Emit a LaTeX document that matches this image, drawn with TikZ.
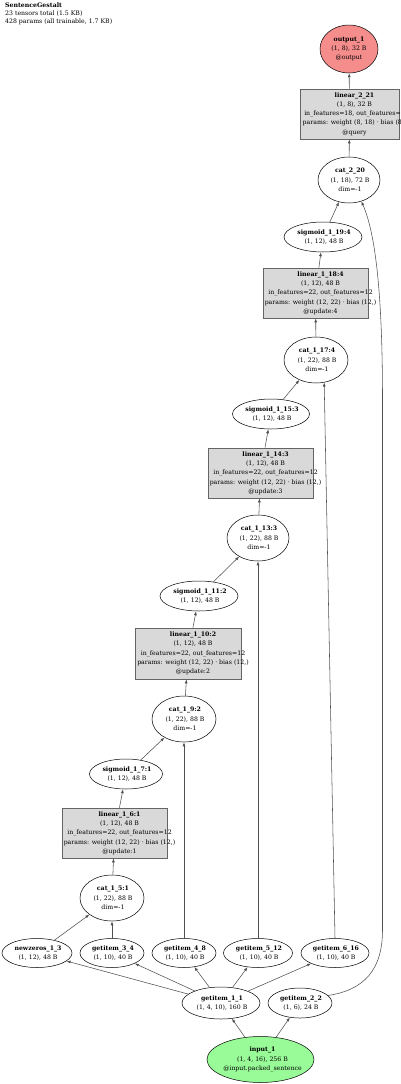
\documentclass[tikz,border=0pt]{standalone}
\usepackage{fontspec}
\setmainfont{DejaVu Serif}
\usetikzlibrary{shapes.geometric,arrows.meta}
\definecolor{boxfill}{RGB}{217,217,217}
\definecolor{boxline}{RGB}{100,100,100}
\definecolor{outfill}{RGB}{246,141,141}
\definecolor{infill}{RGB}{152,251,152}
\definecolor{edgecol}{RGB}{80,80,80}
\begin{document}
\begin{tikzpicture}[x=1pt,y=-1pt,
  ell/.style={draw=black, line width=0.5pt, ellipse, inner sep=0pt, fill=white},
  lbox/.style={draw=boxline, line width=0.8pt, rectangle, inner sep=0pt, fill=boxfill, minimum width=105pt, minimum height=50pt},
  txt/.style={align=center, inner sep=0pt, font=\fontsize{6.2}{9.3}\selectfont},
  hdr/.style={align=left, inner sep=0pt, font=\fontsize{6.2}{7.7}\selectfont},
  catn/.style={ell, minimum width=64pt, minimum height=46pt},
  sig/.style={ell, minimum width=78pt, minimum height=30pt},
  gi/.style={ell, minimum width=66pt, minimum height=29pt},
  conn/.style={draw=edgecol, line width=0.55pt, -{Latex[length=4pt,width=3pt]}}
]
\useasboundingbox (0,0) rectangle (400,1084);
\clip (0,0) rectangle (400,1084);

\node[hdr, anchor=north west] (hdr) at (5,2.8) {\textbf{SentenceGestalt}\\23 tensors total (1.5 KB)\\428 params (all trainable, 1.7 KB)};

% top chain
\node[ell, fill=outfill, minimum width=58pt, minimum height=48pt] (out1) at (349,49) {};
\node[txt] (out1t) at (out1) {\textbf{output\_1}\\(1, 8), 32 B\\@output};

\node[lbox, minimum width=99pt] (l21) at (349.5,114) {};
\node[txt] (l21t) at ([xshift=5pt]l21.center) {\textbf{linear\_2\_21}\\(1, 8), 32 B\\in\_features=18, out\_features=8\\params: weight (8, 18) · bias (8,)\\@query};

\node[catn, minimum width=62pt] (c20) at (349,180) {};
\node[txt] (c20t) at ([xshift=1pt]c20.center) {\textbf{cat\_2\_20}\\(1, 18), 72 B\\dim=-1};

\node[sig] (s19) at (323,237) {};
\node[txt] (s19t) at ([xshift=1pt]s19.center) {\textbf{sigmoid\_1\_19:4}\\(1, 12), 48 B};

\node[lbox] (l18) at (315.5,293) {};
\node[txt] (l18t) at ([xshift=5pt]l18.center) {\textbf{linear\_1\_18:4}\\(1, 12), 48 B\\in\_features=22, out\_features=12\\params: weight (12, 22) · bias (12,)\\@update:4};

\node[catn] (c17) at (316,360) {};
\node[txt] (c17t) at ([xshift=1pt]c17.center) {\textbf{cat\_1\_17:4}\\(1, 22), 88 B\\dim=-1};

\node[sig, minimum width=77pt] (s15) at (271,414) {};
\node[txt] (s15t) at ([xshift=1pt]s15.center) {\textbf{sigmoid\_1\_15:3}\\(1, 12), 48 B};

\node[lbox] (l14) at (260.5,473) {};
\node[txt] (l14t) at ([xshift=5pt]l14.center) {\textbf{linear\_1\_14:3}\\(1, 12), 48 B\\in\_features=22, out\_features=12\\params: weight (12, 22) · bias (12,)\\@update:3};

\node[catn, minimum width=62pt] (c13) at (258,538) {};
\node[txt] (c13t) at ([xshift=1pt]c13.center) {\textbf{cat\_1\_13:3}\\(1, 22), 88 B\\dim=-1};

\node[sig] (s11) at (199,596) {};
\node[txt] (s11t) at ([xshift=1pt]s11.center) {\textbf{sigmoid\_1\_11:2}\\(1, 12), 48 B};

\node[lbox, minimum width=106pt, minimum height=51pt] (l10) at (188,653.5) {};
\node[txt] (l10t) at ([xshift=5pt]l10.center) {\textbf{linear\_1\_10:2}\\(1, 12), 48 B\\in\_features=22, out\_features=12\\params: weight (12, 22) · bias (12,)\\@update:2};

\node[catn] (c9) at (184,719) {};
\node[txt] (c9t) at ([xshift=1pt]c9.center) {\textbf{cat\_1\_9:2}\\(1, 22), 88 B\\dim=-1};

\node[sig, minimum width=73pt] (s7) at (126,774) {};
\node[txt] (s7t) at ([xshift=1pt]s7.center) {\textbf{sigmoid\_1\_7:1}\\(1, 12), 48 B};

\node[lbox] (l6) at (114.5,833) {};
\node[txt] (l6t) at ([xshift=5pt]l6.center) {\textbf{linear\_1\_6:1}\\(1, 12), 48 B\\in\_features=22, out\_features=12\\params: weight (12, 22) · bias (12,)\\@update:1};

\node[catn] (c5) at (112,898) {};
\node[txt] (c5t) at ([xshift=1pt]c5.center) {\textbf{cat\_1\_5:1}\\(1, 22), 88 B\\dim=-1};

% getitem row
\node[gi, minimum width=70pt] (nz) at (37,953) {};
\node[txt] (nzt) at ([xshift=1pt]nz.center) {\textbf{newzeros\_1\_3}\\(1, 12), 48 B};
\node[gi, minimum width=64pt] (g34) at (112,953) {};
\node[txt] (g34t) at ([xshift=1pt]g34.center) {\textbf{getitem\_3\_4}\\(1, 10), 40 B};
\node[gi, minimum width=64pt] (g48) at (184,953) {};
\node[txt] (g48t) at ([xshift=1pt]g48.center) {\textbf{getitem\_4\_8}\\(1, 10), 40 B};
\node[gi, minimum width=69pt] (g512) at (258,953) {};
\node[txt] (g512t) at ([xshift=1pt]g512.center) {\textbf{getitem\_5\_12}\\(1, 10), 40 B};
\node[gi, minimum width=68pt] (g616) at (335,953) {};
\node[txt] (g616t) at ([xshift=1pt]g616.center) {\textbf{getitem\_6\_16}\\(1, 10), 40 B};

\node[ell, minimum width=78pt, minimum height=32pt] (g11) at (221,1003) {};
\node[txt] (g11t) at ([xshift=1pt]g11.center) {\textbf{getitem\_1\_1}\\(1, 4, 10), 160 B};
\node[ell, minimum width=64pt, minimum height=30pt] (g22) at (300,1003) {};
\node[txt] (g22t) at ([xshift=1pt]g22.center) {\textbf{getitem\_2\_2}\\(1, 6), 24 B};

\node[ell, fill=infill, minimum width=107pt, minimum height=46pt] (in1) at (260.5,1059.5) {};
\node[txt] (in1t) at ([xshift=2pt]in1.center) {\textbf{input\_1}\\(1, 4, 16), 256 B\\@input.packed\_sentence};

% edges
\draw[conn] (in1) -- (g11);
\draw[conn] (in1) -- (g22);
\draw[conn] (g11) -- (nz);
\draw[conn] (g11) -- (g34);
\draw[conn] (g11) -- (g48);
\draw[conn] (g11) -- (g512);
\draw[conn] (g11) -- (g616);

\draw[conn] (nz) -- (c5);
\draw[conn] (g34) -- (c5);
\draw[conn] (c5) -- (l6);
\draw[conn] (l6) -- (s7);
\draw[conn] (s7) -- (c9);
\draw[conn] (g48) -- (c9);
\draw[conn] (c9) -- (l10);
\draw[conn] (l10) -- (s11);
\draw[conn] (s11) -- (c13);
\draw[conn] (g512) -- (c13);
\draw[conn] (c13) -- (l14);
\draw[conn] (l14) -- (s15);
\draw[conn] (s15) -- (c17);
\draw[conn] (g616.north) -- (c17.-70);
\draw[conn] (c17) -- (l18);
\draw[conn] (l18) -- (s19);
\draw[conn] (s19) -- (c20);
\draw[conn] (g22.15) .. controls (364,990) and (382.5,970) .. (382.5,930) -- (382.5,400) .. controls (382.5,290) and (375,232) .. (c20.-60);
\draw[conn] (c20) -- (l21);
\draw[conn] (l21) -- (out1);
\end{tikzpicture}
\end{document}
